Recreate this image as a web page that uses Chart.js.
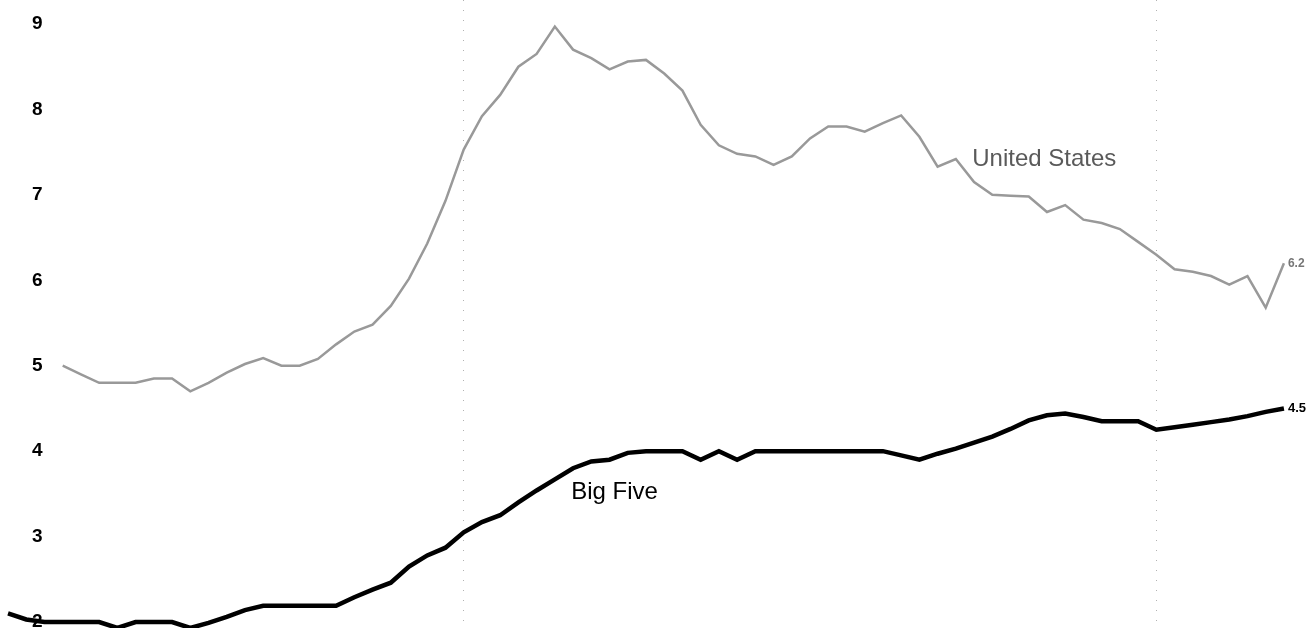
<!DOCTYPE html>
<html><head><meta charset="utf-8">
<script src="https://cdn.jsdelivr.net/npm/chart.js@4/dist/chart.umd.min.js"></script>
<style>html,body{margin:0;padding:0;background:#fff;overflow:hidden}#wrap{width:1314px;height:628px;position:relative}</style>
</head><body><div id="wrap"><canvas id="c"></canvas></div>
<script>
// Values, one value per period (evenly spaced periods)
const unitedStates = [null,null,null,5.0,4.9,4.8,4.8,4.8,4.85,4.85,4.7,4.8,4.92,5.02,5.09,5.0,5.0,5.08,5.25,5.4,5.48,5.7,6.02,6.43,6.93,7.53,7.92,8.17,8.5,8.65,8.97,8.7,8.6,8.47,8.56,8.58,8.42,8.22,7.82,7.58,7.48,7.45,7.35,7.45,7.66,7.8,7.8,7.74,7.84,7.93,7.68,7.33,7.42,7.15,7.0,6.99,6.98,6.8,6.88,6.71,6.67,6.6,6.45,6.3,6.13,6.1,6.05,5.95,6.05,5.68,6.2];
const bigFive = [2.1,2.03,2.0,2.0,2.0,2.0,1.93,2.0,2.0,2.0,1.93,1.99,2.06,2.14,2.19,2.19,2.19,2.19,2.19,2.29,2.38,2.46,2.65,2.78,2.87,3.05,3.17,3.25,3.4,3.54,3.67,3.8,3.88,3.9,3.98,4.0,4.0,4.0,3.9,4.0,3.9,4.0,4.0,4.0,4.0,4.0,4.0,4.0,4.0,3.95,3.9,3.97,4.03,4.1,4.17,4.26,4.36,4.42,4.44,4.4,4.35,4.35,4.35,4.25,4.28,4.31,4.34,4.37,4.41,4.46,4.5];
const periods = bigFive.map((_, i) => i);
const yTicks = [2, 3, 4, 5, 6, 7, 8, 9];
const xGridPeriods = [25, 63];
const seriesNames = ['United States', 'Big Five'];

const FONT = '"Liberation Sans", Arial, sans-serif';
const toPts = arr => periods.map((p, i) => ({x: p, y: arr[i]}));

const labelPlugin = {
  id: 'labels',
  afterDatasetsDraw(chart) {
    const {ctx, scales: {x, y}} = chart;
    ctx.save();
    ctx.textBaseline = 'middle';
    const names = [
      {text: seriesNames[0], px: 52.9, py: 7.41, color: '#5a5a5a', font: '24px ' + FONT},
      {text: seriesNames[1], px: 30.9, py: 3.52, color: '#000', font: '24px ' + FONT}
    ];
    names.forEach(n => {
      ctx.font = n.font; ctx.fillStyle = n.color; ctx.textAlign = 'left';
      ctx.fillText(n.text, x.getPixelForValue(n.px), y.getPixelForValue(n.py));
    });
    const ends = [
      {arr: unitedStates, color: '#777', font: 'bold 12px ' + FONT},
      {arr: bigFive, color: '#000', font: 'bold 13px ' + FONT}
    ];
    ends.forEach(e => {
      const i = e.arr.length - 1, v = e.arr[i];
      ctx.font = e.font; ctx.fillStyle = e.color; ctx.textAlign = 'left';
      ctx.fillText(v.toFixed(1), x.getPixelForValue(periods[i]) + 4, y.getPixelForValue(v));
    });
    ctx.restore();
  }
};

new Chart(document.getElementById('c'), {
  type: 'line',
  data: {
    datasets: [
      {label: seriesNames[0], data: toPts(unitedStates), borderColor: '#999999', borderWidth: 2.5, pointRadius: 0, tension: 0, clip: 10},
      {label: seriesNames[1], data: toPts(bigFive), borderColor: '#000', borderWidth: 4.5, pointRadius: 0, tension: 0, clip: 10}
    ]
  },
  options: {
    responsive: true,
    maintainAspectRatio: false,
    animation: false,
    layout: {padding: 0},
    plugins: {legend: {display: false}, tooltip: {enabled: false}},
    scales: {
      x: {
        type: 'linear', min: -0.44, max: 71.65,
        border: {display: false, dash: [1, 9]},
        grid: {display: true, drawTicks: false, color: 'rgba(0,0,0,0.3)', lineWidth: 1},
        ticks: {display: false},
        afterBuildTicks: s => { s.ticks = xGridPeriods.map(v => ({value: v})); },
        afterFit: s => { s.height = 0; s.paddingLeft = 0; s.paddingRight = 0; }
      },
      y: {
        min: 1.93, max: 9.281,
        border: {display: false},
        grid: {display: false, drawTicks: false},
        ticks: {mirror: true, padding: 32, color: '#000', font: {family: FONT, size: 19, weight: 'bold'}},
        afterBuildTicks: s => { s.ticks = yTicks.map(v => ({value: v})); },
        afterFit: s => { s.width = 0; s.paddingTop = 0; s.paddingBottom = 0; }
      }
    }
  },
  plugins: [labelPlugin]
});
</script>
</body></html>
